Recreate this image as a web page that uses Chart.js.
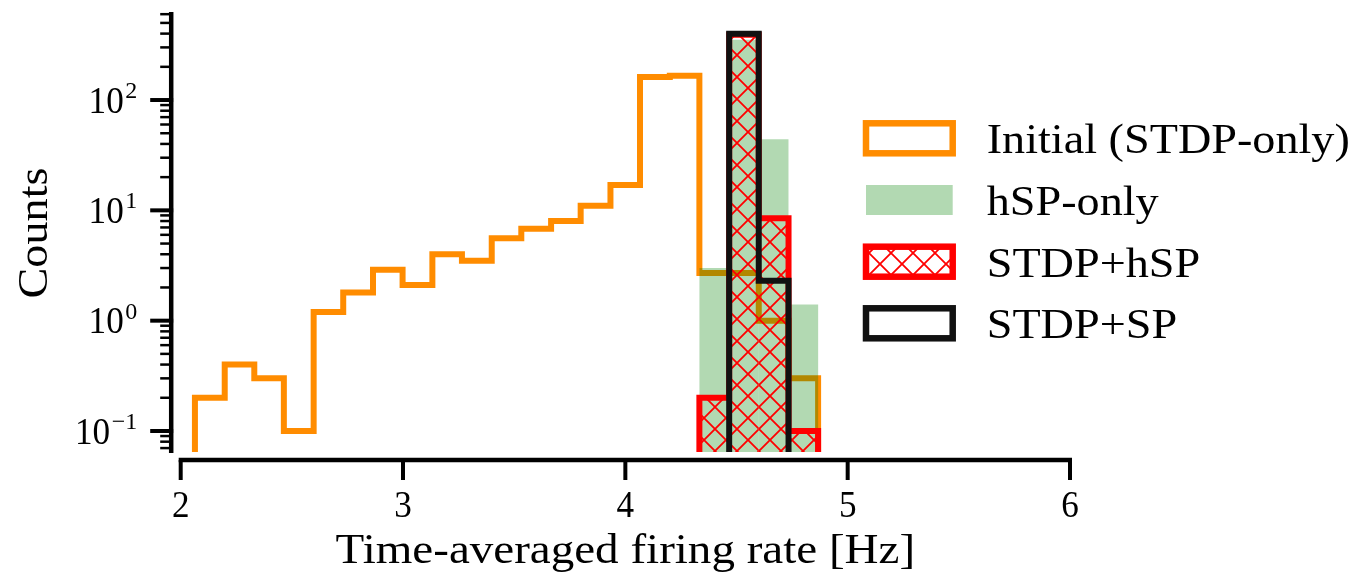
<!DOCTYPE html>
<html>
<head>
<meta charset="utf-8">
<script src="https://cdn.jsdelivr.net/npm/chart.js@4/dist/chart.umd.min.js"></script>
<style>
  html, body { margin: 0; padding: 0; background: #fff; }
  canvas { display: block; }
</style>
</head>
<body>
<canvas id="myChart" width="1364" height="579"></canvas>
<script>
// histogram bin edges [Hz], shared by every run
var binEdges = [2.064, 2.198, 2.331, 2.464, 2.598, 2.731, 2.865, 2.998, 3.132, 3.265, 3.399,
                3.532, 3.666, 3.799, 3.933, 4.066, 4.200, 4.333, 4.467, 4.600, 4.734, 4.867];

// counts per bin (averaged over trials, hence the fractions)
var initialCounts = [0.2, 0.4, 0.3, 0.1, 1.2, 1.8, 2.9, 2.1, 4.0, 3.5, 5.6,
                     6.8, 8.0, 11, 17, 162, 166, 2.7, 2.7, 1.0, 0.3];
var hspOnlyCounts = [0, 0, 0, 0, 0, 0, 0, 0, 0, 0, 0,
                     0, 0, 0, 0, 0, 0, 3.0, 352, 44, 1.4];
var stdpHspCounts = [0, 0, 0, 0, 0, 0, 0, 0, 0, 0, 0,
                     0, 0, 0, 0, 0, 0, 0.2, 391, 8.5, 0.1];
var stdpSpCounts  = [0, 0, 0, 0, 0, 0, 0, 0, 0, 0, 0,
                     0, 0, 0, 0, 0, 0, 0, 398, 2.3, 0];

var seriesLabels = ['Initial (STDP-only)', 'hSP-only', 'STDP+hSP', 'STDP+SP'];

var xTicks = [2, 3, 4, 5, 6];
var yTicks = [0.1, 1, 10, 100];
var yTickExponents = ['\u22121', '0', '1', '2'];

var X_MIN = 2, X_MAX = 6;
var Y_MIN = 0.0645, Y_MAX = 628;

var ORANGE = '#ff8c00';
var GREEN = 'rgba(0, 128, 0, 0.3)';
var RED = '#ff0000';
var BLACK = '#111111';
var SERIF = '"Liberation Serif", "Times New Roman", serif';

// 'xx' style hatch
function makeHatch() {
  var p = 22;
  var c = document.createElement('canvas');
  c.width = p; c.height = p;
  var g = c.getContext('2d');
  g.strokeStyle = RED;
  g.lineWidth = 1.8;
  g.beginPath();
  for (var k = -1; k <= 1; k++) {
    g.moveTo(k * p, 0); g.lineTo(k * p + p, p);
    g.moveTo(k * p + p, 0); g.lineTo(k * p, p);
  }
  g.stroke();
  return g.createPattern(c, 'repeat');
}
var hatch = makeHatch();

// outline of a step histogram, starting and ending on the floor
function stepPoints(counts) {
  var first = -1, last = -1;
  counts.forEach(function (c, i) { if (c > 0) { if (first < 0) first = i; last = i; } });
  var pts = [{ x: binEdges[first], y: Y_MIN }];
  for (var i = first; i <= last; i++) {
    var v = counts[i] > 0 ? counts[i] : Y_MIN;
    pts.push({ x: binEdges[i], y: v }, { x: binEdges[i + 1], y: v });
  }
  pts.push({ x: binEdges[last + 1], y: Y_MIN });
  return pts;
}

function barPoints(counts) {
  var pts = [];
  counts.forEach(function (c, i) {
    if (c > 0) pts.push({ x: (binEdges[i] + binEdges[i + 1]) / 2, y: [Y_MIN, c] });
  });
  return pts;
}

function stepLine(counts, color, order) {
  return {
    type: 'line',
    data: stepPoints(counts),
    borderColor: color,
    borderWidth: 6,
    borderJoinStyle: 'miter',
    borderCapStyle: 'butt',
    pointRadius: 0,
    tension: 0,
    fill: false,
    clip: 0,
    order: order
  };
}

function serifText(ctx, str, x, y, size, align, sx) {
  ctx.save();
  ctx.translate(x, y);
  ctx.scale(sx || 1, 1);
  ctx.font = size + 'px ' + SERIF;
  ctx.textAlign = align || 'left';
  ctx.textBaseline = 'alphabetic';
  ctx.fillText(str, 0, 0);
  ctx.restore();
}

function seg(ctx, x1, y1, x2, y2) {
  ctx.beginPath(); ctx.moveTo(x1, y1); ctx.lineTo(x2, y2); ctx.stroke();
}

// offset spines, ticks, labels and legend
var decorations = {
  id: 'decorations',
  afterDraw: function (chart) {
    var ctx = chart.ctx, a = chart.chartArea;
    var xs = chart.scales.x, ys = chart.scales.y;
    var spineX = a.left - 9.5, spineY = a.bottom + 8;
    ctx.save();
    ctx.strokeStyle = '#000';
    ctx.fillStyle = '#000';
    ctx.lineCap = 'butt';

    ctx.lineWidth = 4.5;
    seg(ctx, spineX, a.top, spineX, a.bottom + 1);
    seg(ctx, xs.getPixelForValue(xTicks[0]) - 2, spineY,
        xs.getPixelForValue(xTicks[xTicks.length - 1]) + 2, spineY);

    // x ticks
    ctx.lineWidth = 4;
    xTicks.forEach(function (t) {
      var px = xs.getPixelForValue(t);
      seg(ctx, px, spineY, px, spineY + 20);
      serifText(ctx, String(t), px, spineY + 57, 37, 'center', 0.95);
    });

    // y minor ticks
    ctx.lineWidth = 2.5;
    for (var e = -2; e <= 2; e++) {
      for (var m = 2; m <= 9; m++) {
        var v = m * Math.pow(10, e);
        if (v < Y_MIN || v > Y_MAX) continue;
        var py = ys.getPixelForValue(v);
        seg(ctx, spineX, py, spineX - 11, py);
      }
    }

    // y major ticks with power-of-ten labels
    ctx.lineWidth = 4;
    yTicks.forEach(function (t, i) {
      var py = ys.getPixelForValue(t);
      seg(ctx, spineX + 2, py, spineX - 21, py);
      ctx.font = '24px ' + SERIF;
      var expW = ctx.measureText(yTickExponents[i]).width;
      var right = spineX - 34;
      serifText(ctx, yTickExponents[i], right - expW, py - 2, 24, 'left');
      serifText(ctx, '10', right - expW - 1.5, py + 12.7, 37, 'right', 0.95);
    });

    // axis titles
    serifText(ctx, 'Time-averaged firing rate [Hz]', (a.left + a.right) / 2, 563, 42, 'center', 1.12);
    ctx.save();
    ctx.translate(47, (a.top + a.bottom) / 2 + 1);
    ctx.rotate(-Math.PI / 2);
    serifText(ctx, 'Counts', 0, 0, 42, 'center', 1.1);
    ctx.restore();

    // legend
    var boxL = 866, boxW = 86.7, boxH = 30, textX = 986.7;
    var rowBase = [153.3, 215, 276.7, 338.3];
    rowBase.forEach(function (b, i) {
      var top = b - 15 - boxH / 2;
      ctx.lineWidth = 6.5;
      ctx.lineJoin = 'miter';
      if (i === 0) {
        ctx.strokeStyle = ORANGE;
        ctx.strokeRect(boxL, top, boxW, boxH);
      } else if (i === 1) {
        ctx.fillStyle = GREEN;
        ctx.fillRect(boxL, top, boxW, boxH);
      } else if (i === 2) {
        ctx.fillStyle = hatch;
        ctx.fillRect(boxL, top, boxW, boxH);
        ctx.strokeStyle = RED;
        ctx.strokeRect(boxL, top, boxW, boxH);
      } else {
        ctx.strokeStyle = BLACK;
        ctx.strokeRect(boxL, top, boxW, boxH);
      }
      ctx.fillStyle = '#000';
      serifText(ctx, seriesLabels[i], textX, b, 42, 'left', 1.1);
    });
    ctx.restore();
  }
};

const ctx = document.getElementById('myChart');
var myChart = new Chart(ctx, {
  type: 'bar',
  data: {
    datasets: [
      stepLine(initialCounts, ORANGE, 5),
      {
        data: barPoints(hspOnlyCounts),
        backgroundColor: GREEN,
        borderWidth: 0,
        grouped: false,
        barPercentage: 1,
        categoryPercentage: 1,
        inflateAmount: 0,
        order: 4
      },
      {
        data: barPoints(stdpHspCounts),
        backgroundColor: hatch,
        borderWidth: 0,
        grouped: false,
        barPercentage: 1,
        categoryPercentage: 1,
        inflateAmount: 0,
        order: 3
      },
      stepLine(stdpHspCounts, RED, 2),
      stepLine(stdpSpCounts, BLACK, 1)
    ]
  },
  options: {
    responsive: false,
    animation: false,
    layout: { padding: { left: 180.7, right: 294, top: 12, bottom: 127 } },
    scales: {
      x: { type: 'linear', min: X_MIN, max: X_MAX, offset: false, display: false },
      y: { type: 'logarithmic', min: Y_MIN, max: Y_MAX, display: false }
    },
    plugins: {
      legend: { display: false },
      tooltip: { enabled: false }
    }
  },
  plugins: [decorations]
});
</script>
</body>
</html>
